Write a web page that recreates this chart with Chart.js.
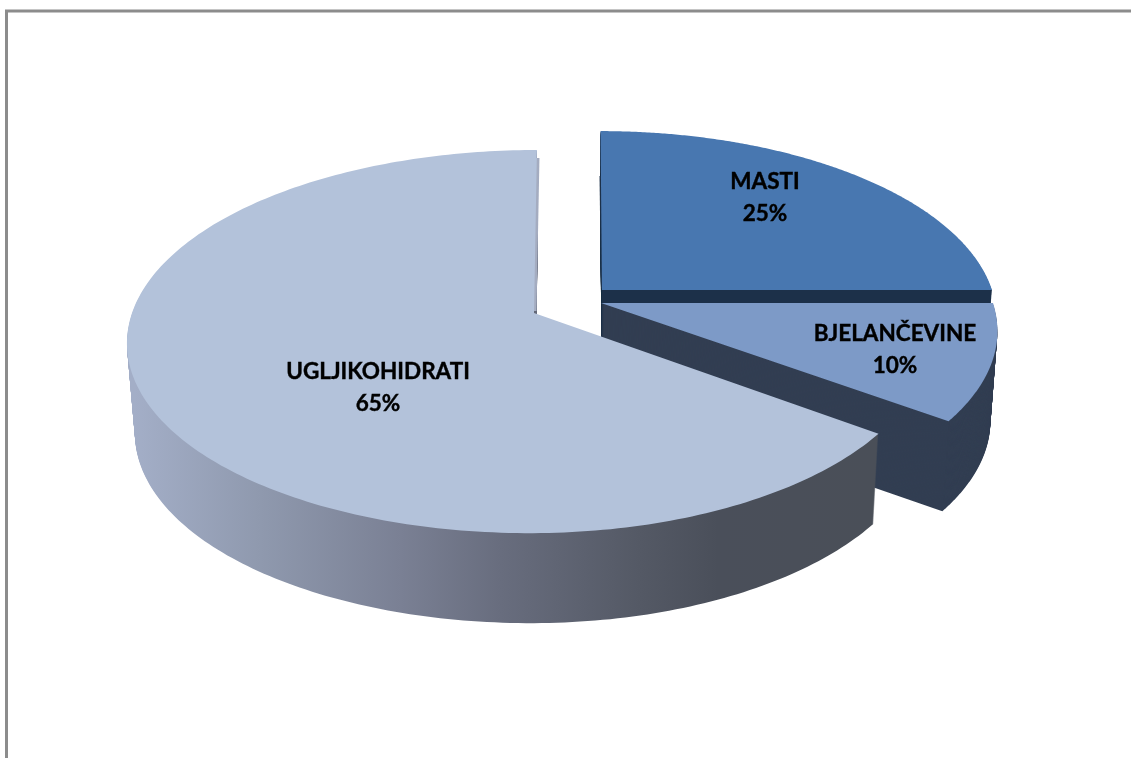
<!DOCTYPE html>
<html><head><meta charset="utf-8">
<style>html,body{margin:0;padding:0;background:#fff}canvas{display:block}</style>
<script src="https://cdn.jsdelivr.net/npm/chart.js@4"></script>
</head><body><canvas id="c" width="1131" height="758"></canvas>
<script>
const categories = ['MASTI', 'BJELANČEVINE', 'UGLJIKOHIDRATI'];
const shares = [25, 10, 65];
const topColors = ['#4877b0', '#7d9ac7', '#b3c2da'];
const sideColors = ['#1c3049', '#323e52', null];
const bigSideStops = [[0,'#a3aec7'],[0.17,'#8f99ae'],[0.36,'#7a8094'],[0.495,'#686d7e'],[0.684,'#545965'],[0.79,'#4a4f5a'],[1,'#4a4f58']];

// 3D view of the pie (plane projection with perspective)
const view = {cx:570, cy:305, rx:400, ry:187.3, persp:0.149, depth:90, shrink:0.0173, shrinkCx:589};
const explodeX = [0.08, 0.0775, -0.09];
const explodeY = [-0.08, -0.0107, 0.043];
const radiusLeft = [390, 392, 402];
const radiusRight = [390, 392, 391];
const radiusDepth = [0.975, 0.98, 1];
const shear = [-1.7, 0, 3.4];
const cutColors = ['#1c3049', null, '#a4acc0'];
const labelX = [0.4075, 0.735, -0.39];
const labelY = [-0.495, 0.25, 0.4];

function project(i, a, h) {
  const u = Math.cos(a), v = Math.sin(a), d = 1 - view.persp * v;
  const tx = view.cx + view.rx * explodeX[i], ty = view.cy + view.ry * explodeY[i];
  const A = u < 0 ? radiusLeft[i] : radiusRight[i];
  let x = tx + (A * u - shear[i] * v) / d;
  let y = ty + radiusDepth[i] * view.ry * v / d;
  x = view.shrinkCx + (x - view.shrinkCx) * (1 - view.shrink * h);
  y += view.depth * h;
  return [x, y];
}
function tip(i, h) {
  const tx = view.cx + view.rx * explodeX[i], ty = view.cy + view.ry * explodeY[i];
  return [view.shrinkCx + (tx - view.shrinkCx) * (1 - view.shrink * h), ty + view.depth * h];
}
function sector(ctx, i, arc, h) {
  const t = tip(i, h);
  ctx.beginPath();
  ctx.moveTo(t[0], t[1]);
  const n = 240;
  for (let k = 0; k <= n; k++) {
    const p = project(i, arc.startAngle + (arc.endAngle - arc.startAngle) * k / n, h);
    ctx.lineTo(p[0], p[1]);
  }
  ctx.closePath();
}
const pie3d = {
  id: 'pie3d',
  beforeDraw(chart) {
    const ctx = chart.ctx;
    ctx.save();
    ctx.strokeStyle = '#8c8c8c';
    ctx.lineWidth = 3;
    ctx.beginPath();
    ctx.moveTo(6.5, 770); ctx.lineTo(6.5, 11); ctx.lineTo(1140, 11);
    ctx.stroke();
    ctx.restore();
  },
  beforeDatasetDraw(chart) {
    const ctx = chart.ctx, arcs = chart.getDatasetMeta(0).data;
    ctx.save();
    arcs.forEach((arc, i) => {
      let side = sideColors[i];
      if (!side) {
        side = ctx.createLinearGradient(135, 0, 873, 0);
        bigSideStops.forEach(s => side.addColorStop(s[0], s[1]));
      }
      ctx.fillStyle = side;
      for (let h = view.depth; h > 0; h--) {
        sector(ctx, i, arc, h / view.depth);
        ctx.fill();
      }
      if (cutColors[i]) {
        const t = tip(i, 0);
        const a = i === 2 ? arc.endAngle : arc.startAngle;
        const e = project(i, a, 0);
        ctx.strokeStyle = cutColors[i];
        ctx.lineWidth = i === 2 ? 5 : 2;
        ctx.beginPath(); ctx.moveTo(t[0], t[1] - 2); ctx.lineTo(e[0], e[1] + (i === 2 ? 8 : 45)); ctx.stroke();
      }
      ctx.fillStyle = arc.options.backgroundColor;
      sector(ctx, i, arc, 0);
      ctx.fill();
    });
    ctx.restore();
    return false;
  },
  afterDatasetsDraw(chart) {
    const ctx = chart.ctx;
    ctx.save();
    ctx.fillStyle = '#000';
    ctx.strokeStyle = '#000';
    ctx.lineWidth = 0.4;
    ctx.font = 'bold 22.5px Lato';
    ctx.textAlign = 'center';
    ctx.textBaseline = 'middle';
    categories.forEach((name, i) => {
      const t = tip(i, 0);
      const x = t[0] + view.rx * labelX[i], y = t[1] + view.ry * labelY[i];
      [[name, y - 16], [shares[i] + '%', y + 16]].forEach(([s, yy]) => {
        ctx.fillText(s, x, yy);
        ctx.strokeText(s, x, yy);
      });
    });
    ctx.restore();
  }
};
new Chart(document.getElementById('c'), {
  type: 'pie',
  data: {labels: categories, datasets: [{data: shares, backgroundColor: topColors, borderWidth: 0}]},
  options: {
    responsive: false, animation: false,
    plugins: {legend: {display: false}, tooltip: {enabled: false}}
  },
  plugins: [pie3d]
});
</script></body></html>
